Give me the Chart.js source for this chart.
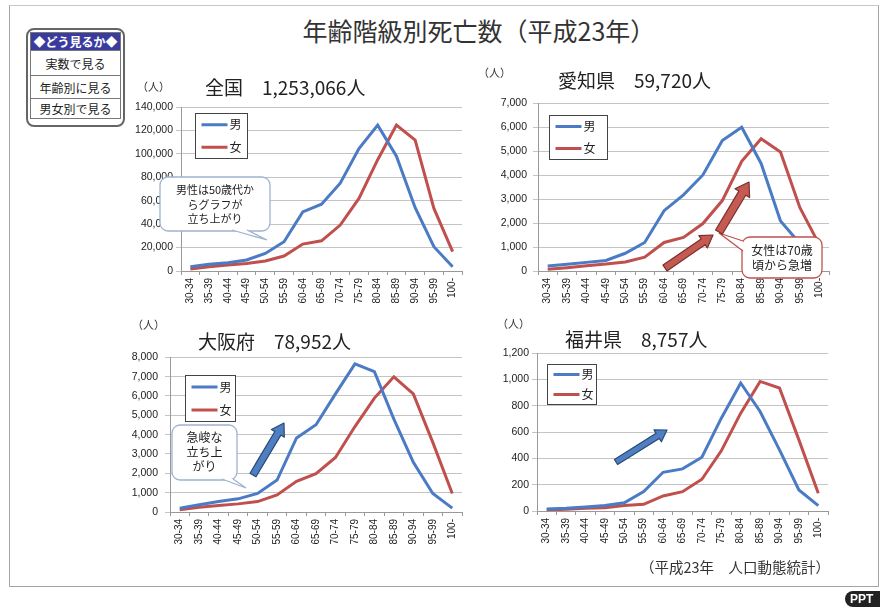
<!DOCTYPE html>
<html lang="ja">
<head>
<meta charset="utf-8">
<script src="https://cdn.jsdelivr.net/npm/chart.js@4.4.1/dist/chart.umd.min.js"></script>
<style>
  html, body { margin: 0; padding: 0; background: #fff; }
  #page { position: relative; width: 880px; height: 608px; overflow: hidden; background: #fff;
          font-family: "Noto Sans CJK JP", "Noto Sans", sans-serif; color: #222; }
  .abs { position: absolute; white-space: nowrap; line-height: 1; }
  canvas { position: absolute; }
  #frame { position: absolute; left: 9px; top: 5px; width: 868px; height: 580px;
           border: 1.5px solid #a4a4a4; border-top-color: #c8c8c8; }
  #menu { position: absolute; left: 26px; top: 28px; width: 91px; height: 91px;
          border: 2px solid #666; border-radius: 8px; padding: 2px; background: #fff; }
  #menu div { box-sizing: border-box; border: 1px solid #777; border-top: none; text-align: center;
              font-size: 12px; display: flex; align-items: center; justify-content: center; }
  #menu .head { background: #3b3b9e; color: #fff; font-weight: bold; height: 19px; border-top: 1px solid #777; }
  .note { position: absolute; text-align: center; font-size: 11px; line-height: 14.5px; color: #222; }
  #ppt { position: absolute; left: 845px; top: 591px; width: 40px; height: 16px; background: #222;
         border-radius: 8px; color: #fff; font: bold 12px "Liberation Sans", sans-serif; line-height: 16px; padding-left: 5px; }
  svg { position: absolute; left: 0; top: 0; }
</style>
</head>
<body>
<div id="page">
  <div id="frame"></div>
  <div class="abs" style="left:229px; top:18px; width:500px; text-align:center; font-size:25px; color:#333;">年齢階級別死亡数（平成23年）</div>
  <div id="menu">
    <div class="head">◆どう見るか◆</div>
    <div style="height:25px;">実数で見る</div>
    <div style="height:23px;">年齢別に見る</div>
    <div style="height:20px;">男女別で見る</div>
  </div>
  <canvas id="c0"></canvas>
  <canvas id="c1"></canvas>
  <canvas id="c2"></canvas>
  <canvas id="c3"></canvas>
  <svg id="ann" width="880" height="608"></svg>
  <div class="abs" style="left:640px; top:560px; font-size:14.5px; color:#333;">（平成23年　人口動態統計）</div>
  <div id="ppt">PPT</div>
</div>
<script>
// 年齢階級
const ageGroups = ["30-34", "35-39", "40-44", "45-49", "50-54", "55-59", "60-64", "65-69",
  "70-74", "75-79", "80-84", "85-89", "90-94", "95-99", "100-"];

const areaNames = ["全国", "愛知県", "大阪府", "福井県"];
const areaTotals = [1253066, 59720, 78952, 8757];

// 死亡数 (人)
const zenkokuMale = [3600, 5700, 7100, 9400, 15000, 25000, 50500, 57000, 75000, 104500, 124500, 98000, 54000, 20700, 3700];
const zenkokuFemale = [1700, 3700, 5100, 6500, 8500, 12800, 23000, 25800, 39200, 62000, 95000, 124500, 111700, 53400, 16500];
const aichiMale = [210, 280, 360, 440, 740, 1190, 2520, 3180, 4010, 5450, 6000, 4490, 2090, 1150, 250];
const aichiFemale = [70, 140, 220, 290, 380, 580, 1190, 1400, 1980, 2940, 4580, 5520, 4970, 2640, 1100];
const osakaMale = [200, 370, 540, 680, 960, 1650, 3830, 4510, 6110, 7660, 7260, 4800, 2570, 960, 200];
const osakaFemale = [120, 240, 340, 420, 540, 880, 1590, 1980, 2820, 4420, 5890, 6990, 6110, 3600, 960];
const fukuiMale = [15, 20, 30, 41, 63, 147, 294, 320, 408, 705, 972, 756, 464, 160, 41];
const fukuiFemale = [8, 13, 20, 25, 41, 51, 114, 147, 241, 457, 743, 984, 934, 540, 134];

const yMax = [140000, 7000, 8000, 1200];
const yStep = [20000, 1000, 1000, 200];
const seriesLabels = ["男", "女"];

const BLUE = "#4a7bc4";
const RED = "#c0504d";

// layout: plot area [left, top, right, bottom], legend box [dx, dy, w, h], title / unit position
const panels = [
  { male: zenkokuMale, female: zenkokuFemale, plot: [181, 107, 462, 271], pad: 8, legend: [14, 6, 52, 45], title: [205, 77], unit: [137, 81] },
  { male: aichiMale, female: aichiFemale, plot: [538, 101, 829, 271], pad: 11, legend: [11, 12, 58, 44], title: [558, 70], unit: [478, 67] },
  { male: osakaMale, female: osakaFemale, plot: [170, 354, 462, 512], pad: 12, legend: [15, 18, 50, 46], title: [198, 331], unit: [132, 319] },
  { male: fukuiMale, female: fukuiFemale, plot: [537, 353, 828, 511], pad: 8, legend: [10, 11, 49, 40], title: [565, 329], unit: [497, 318] },
];

const YW = 62, XH = 42, PT = 10, PR = 6;

const boxLegend = {
  id: "boxLegend",
  afterDatasetsDraw(chart, args, opts) {
    const ctx = chart.ctx, a = chart.chartArea;
    const x = Math.round(a.left + opts.box[0]) + 0.5, y = Math.round(a.top + opts.box[1]) + 0.5;
    const w = opts.box[2], h = opts.box[3];
    ctx.save();
    ctx.fillStyle = "#fff";
    ctx.fillRect(x, y, w, h);
    ctx.strokeStyle = "#444";
    ctx.lineWidth = 1;
    ctx.strokeRect(x, y, w, h);
    chart.data.datasets.forEach((ds, i) => {
      const cy = y + h * (i * 2 + 1) / 4;
      ctx.strokeStyle = ds.borderColor;
      ctx.lineWidth = 3;
      ctx.beginPath();
      ctx.moveTo(x + 6, cy);
      ctx.lineTo(x + 32, cy);
      ctx.stroke();
      ctx.fillStyle = "#222";
      ctx.font = '12px "Noto Sans CJK JP"';
      ctx.textBaseline = "middle";
      ctx.fillText(ds.label, x + 34, cy);
    });
    ctx.restore();
  },
};

const page = document.getElementById("page");

panels.forEach((p, i) => {
  const [pl, pt, pr, pb] = p.plot;
  const cl = pl - YW, ct = pt - PT;
  const cv = document.getElementById("c" + i);
  cv.width = pr + PR - cl;
  cv.height = pb + XH - ct;
  cv.style.left = cl + "px";
  cv.style.top = ct + "px";

  const title = document.createElement("div");
  title.className = "abs";
  title.style.cssText = `left:${p.title[0]}px; top:${p.title[1]}px; font-size:19px; color:#222;`;
  title.textContent = areaNames[i] + "　" + areaTotals[i].toLocaleString("en-US") + "人";
  page.appendChild(title);

  const unit = document.createElement("div");
  unit.className = "abs";
  unit.style.cssText = `left:${p.unit[0]}px; top:${p.unit[1]}px; font-size:11px; color:#333;`;
  unit.textContent = "（人）";
  page.appendChild(unit);

  new Chart(cv.getContext("2d"), {
    type: "line",
    data: {
      labels: ageGroups,
      datasets: [
        { label: seriesLabels[0], data: p.male, borderColor: BLUE, borderWidth: 3, pointRadius: 0, tension: 0 },
        { label: seriesLabels[1], data: p.female, borderColor: RED, borderWidth: 3, pointRadius: 0, tension: 0 },
      ],
    },
    options: {
      responsive: false,
      animation: false,
      layout: { padding: { top: PT, right: PR, left: 0, bottom: 0 } },
      plugins: {
        legend: { display: false },
        tooltip: { enabled: false },
        boxLegend: { box: p.legend },
      },
      scales: {
        x: {
          offset: true,
          grid: { offset: true, drawOnChartArea: false, tickLength: 4, color: "#999" },
          border: { color: "#999" },
          ticks: { autoSkip: false, minRotation: 90, maxRotation: 90, padding: 3, color: "#222",
                   font: { family: "Liberation Sans", size: 10 } },
          afterFit(s) { s.height = XH; },
        },
        y: {
          min: 0,
          max: yMax[i],
          ticks: { stepSize: yStep[i], padding: p.pad - 5, color: "#222",
                   font: { family: "Liberation Sans", size: 10.5 },
                   callback: (v) => v.toLocaleString("en-US") },
          grid: { color: "#c4c4c4", tickLength: 5 },
          border: { color: "#999" },
          afterFit(s) { s.width = YW; },
        },
      },
    },
    plugins: [boxLegend],
  });
});

// annotations (callouts and arrows)
const svg = document.getElementById("ann");
const NS = "http://www.w3.org/2000/svg";
function el(tag, attrs) {
  const e = document.createElementNS(NS, tag);
  for (const k in attrs) e.setAttribute(k, attrs[k]);
  svg.appendChild(e);
  return e;
}
function callout(x, y, w, h, b1, b2, tip, color) {
  el("rect", { x, y, width: w, height: h, rx: 8, fill: "#fff", stroke: color, "stroke-width": 1.3 });
  el("polygon", { points: [b1, b2, tip].map((q) => q.join(",")).join(" "), fill: "#fff", stroke: "none" });
  el("polyline", { points: [b1, tip, b2].map((q) => q.join(",")).join(" "), fill: "none", stroke: color, "stroke-width": 1.3 });
}
function arrow(x1, y1, x2, y2, sw, hw, hl, fill, stroke) {
  const dx = x2 - x1, dy = y2 - y1, L = Math.hypot(dx, dy);
  const ux = dx / L, uy = dy / L, nx = -uy, ny = ux;
  const bx = x2 - ux * hl, by = y2 - uy * hl;
  const pts = [
    [x1 + nx * sw / 2, y1 + ny * sw / 2], [bx + nx * sw / 2, by + ny * sw / 2], [bx + nx * hw / 2, by + ny * hw / 2],
    [x2, y2],
    [bx - nx * hw / 2, by - ny * hw / 2], [bx - nx * sw / 2, by - ny * sw / 2], [x1 - nx * sw / 2, y1 - ny * sw / 2],
  ];
  el("polygon", { points: pts.map((q) => q.join(",")).join(" "), fill, stroke, "stroke-width": 1.2, "stroke-linejoin": "round" });
}

callout(160, 177, 110, 54, [232, 230], [247, 230], [267, 240], "#9fb3cf");
callout(742, 237, 80, 41, [743, 241], [743, 251], [719, 233], "#c0504d");
callout(172, 425, 65, 55, [222, 479], [233, 479], [246, 488], "#9fb3cf");

arrow(665, 268, 713, 235, 7, 15, 12, "#c55a52", "#7a2f2b");
arrow(719, 232, 749, 182, 8, 17, 13, "#c55a52", "#7a2f2b");
arrow(253, 475, 284, 423, 7, 15, 12, "#4f7fc0", "#27497a");
arrow(616, 462, 667, 430, 6, 14, 11, "#4f7fc0", "#27497a");

function note(left, top, width, lines, size) {
  const d = document.createElement("div");
  d.className = "note";
  d.style.cssText = `left:${left}px; top:${top}px; width:${width}px; font-size:${size}px;`;
  d.innerHTML = lines.join("<br>");
  page.appendChild(d);
}
note(160, 182, 110, ["男性は50歳代か", "らグラフが", "立ち上がり"], 11);
note(742, 243, 80, ["女性は70歳", "頃から急増"], 12);
note(172, 430, 65, ["急峻な", "立ち上", "がり"], 12);
</script>
</body>
</html>
